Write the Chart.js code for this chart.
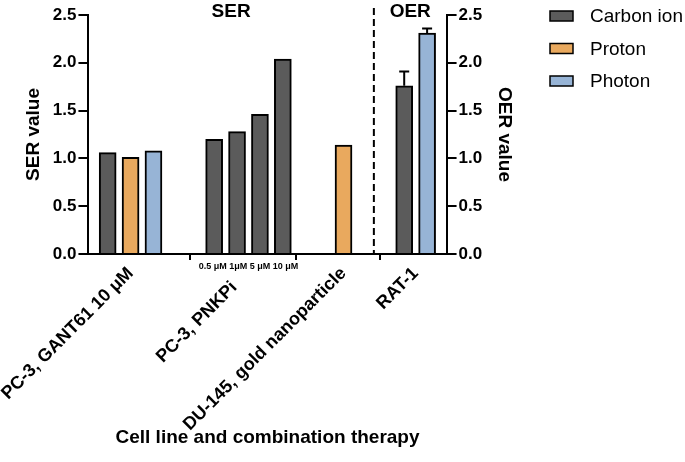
<!DOCTYPE html>
<html>
<head>
<meta charset="utf-8">
<script src="https://cdn.jsdelivr.net/npm/chart.js@4/dist/chart.umd.min.js"></script>
<style>
  html, body { margin: 0; padding: 0; background: #fff; }
  #wrap { width: 685px; height: 462px; }
</style>
</head>
<body>
<div id="wrap"><canvas id="grafico"></canvas></div>
<script>
const categories = ['PC-3, GANT61 10 μM', 'PC-3, PNKPi', 'DU-145, gold nanoparticle', 'RAT-1'];
const series = ['Carbon ion', 'Proton', 'Photon'];
const seriesColors = ['#5b5b5b', '#e9a95e', '#97b4d6'];

// one entry per bar, left to right
const barGroup = [0, 0, 0, 1, 1, 1, 1, 2, 3, 3];
const barSeries = [0, 1, 2, 0, 0, 0, 0, 1, 0, 2];
const barValue = [1.06, 1.01, 1.08, 1.20, 1.28, 1.46, 2.04, 1.14, 1.76, 2.31];
const barError = [0, 0, 0, 0, 0, 0, 0, 0, 0.15, 0.05];

const pnkpiDoses = ['0.5 μM', '1μM', '5 μM', '10 μM'];
const doseGroup = 1;
const oerGroup = 3;

const FONT = 'Liberation Sans, Arial, Helvetica, sans-serif';
const GROUP_GAP = 2.65;

// slot positions along the x axis
const barX = [];
let pos = 0;
barGroup.forEach((g, i) => {
    if (i > 0) pos += (g !== barGroup[i - 1]) ? GROUP_GAP : 1;
    barX.push(pos);
});
const groupCenters = categories.map((c, g) => {
    const xs = barX.filter((x, i) => barGroup[i] === g);
    return (xs[0] + xs[xs.length - 1]) / 2;
});

function makeDataset(s, axis) {
    const data = [];
    barValue.forEach((v, i) => {
        const isOER = barGroup[i] === oerGroup;
        if (barSeries[i] === s && (axis === 'y2') === isOER) {
            data.push({ x: barX[i], y: v, err: barError[i] });
        }
    });
    return {
        label: series[s],
        data: data,
        yAxisID: axis,
        backgroundColor: seriesColors[s],
        borderColor: '#000',
        borderWidth: 2,
        barThickness: 17,
        grouped: false
    };
}

const datasets = [];
['y', 'y2'].forEach(axis => {
    series.forEach((name, s) => {
        const ds = makeDataset(s, axis);
        if (ds.data.length) datasets.push(ds);
    });
});

const errorBars = {
    id: 'errorBars',
    afterDatasetsDraw(chart) {
        const ctx = chart.ctx;
        ctx.save();
        ctx.strokeStyle = '#000';
        ctx.lineWidth = 2;
        chart.data.datasets.forEach((ds, d) => {
            const meta = chart.getDatasetMeta(d);
            const scale = chart.scales[ds.yAxisID];
            ds.data.forEach((p, i) => {
                if (!p.err) return;
                const bar = meta.data[i];
                const top = scale.getPixelForValue(p.y + p.err);
                ctx.beginPath();
                ctx.moveTo(bar.x, bar.y);
                ctx.lineTo(bar.x, top);
                ctx.moveTo(bar.x - 5, top);
                ctx.lineTo(bar.x + 5, top);
                ctx.stroke();
            });
        });
        ctx.restore();
    }
};

const annotations = {
    id: 'annotations',
    afterDraw(chart) {
        const ctx = chart.ctx;
        const area = chart.chartArea;
        const x = chart.scales.x;
        const lastSER = barX[barGroup.indexOf(oerGroup) - 1];
        const firstOER = barX[barGroup.indexOf(oerGroup)];
        const divider = x.getPixelForValue((lastSER + firstOER) / 2);
        ctx.save();
        ctx.strokeStyle = '#000';
        ctx.lineWidth = 2;
        ctx.setLineDash([7, 4]);
        ctx.beginPath();
        ctx.moveTo(divider, 8);
        ctx.lineTo(divider, area.bottom);
        ctx.stroke();
        ctx.setLineDash([]);

        ctx.fillStyle = '#000';
        ctx.textAlign = 'center';
        ctx.textBaseline = 'middle';
        ctx.font = 'bold 19px ' + FONT;
        ctx.fillText('SER', (area.left + divider) / 2, 12);
        ctx.fillText('OER', (divider + area.right) / 2, 12);

        ctx.font = 'bold 9px ' + FONT;
        ctx.fillText(pnkpiDoses.join(' '), x.getPixelForValue(groupCenters[doseGroup]), area.bottom + 13);

        // legend
        ctx.textAlign = 'left';
        ctx.font = '19px ' + FONT;
        series.forEach((name, s) => {
            const y = 16 + s * 32.5;
            ctx.fillStyle = seriesColors[s];
            ctx.fillRect(550, y - 5, 23, 10);
            ctx.lineWidth = 1.5;
            ctx.strokeRect(550, y - 5, 23, 10);
            ctx.fillStyle = '#000';
            ctx.fillText(name, 590, y + 1);
        });
        ctx.restore();
    }
};

function yAxis(position, title, titlePadding) {
    return {
        position: position,
        min: 0,
        max: 2.5,
        ticks: {
            stepSize: 0.5,
            padding: 2,
            color: '#000',
            font: { family: FONT, size: 17, weight: 'bold' },
            callback: v => v.toFixed(1)
        },
        grid: { drawOnChartArea: false, tickLength: 10, color: '#000', lineWidth: 2 },
        border: { color: '#000', width: 2 },
        title: {
            display: true,
            text: title,
            color: '#000',
            font: { family: FONT, size: 19, weight: 'bold' },
            padding: titlePadding
        }
    };
}

new Chart(document.getElementById('grafico'), {
    type: 'bar',
    data: { datasets: datasets },
    options: {
        responsive: true,
        maintainAspectRatio: false,
        animation: false,
        layout: { padding: { left: 18, right: 165, top: 15, bottom: 13 } },
        plugins: {
            legend: { display: false },
            tooltip: { enabled: false }
        },
        scales: {
            x: {
                type: 'linear',
                min: barX[0] - 0.84,
                max: barX[barX.length - 1] + 0.85,
                offset: false,
                afterBuildTicks: scale => {
                    scale.ticks = groupCenters.map(v => ({ value: v }));
                },
                afterFit: scale => {
                    scale.paddingLeft = 0;
                    scale.paddingRight = 0;
                    scale.height -= 12;
                },
                ticks: {
                    autoSkip: false,
                    minRotation: 45,
                    maxRotation: 45,
                    padding: 3,
                    color: '#000',
                    font: { family: FONT, size: 18, weight: 'bold' },
                    callback: (v, i) => i === doseGroup ? categories[i] + '    ' : categories[i]
                },
                grid: { drawOnChartArea: false, tickLength: 6, color: '#000', lineWidth: 2 },
                border: { color: '#000', width: 2 },
                title: {
                    display: true,
                    text: 'Cell line and combination therapy',
                    color: '#000',
                    font: { family: FONT, size: 19, weight: 'bold' },
                    padding: { top: 0, bottom: 0 }
                }
            },
            y: yAxis('left', 'SER value', { top: 4, bottom: 6 }),
            y2: yAxis('right', 'OER value', { top: 4, bottom: 9 })
        }
    },
    plugins: [errorBars, annotations]
});
</script>
</body>
</html>
